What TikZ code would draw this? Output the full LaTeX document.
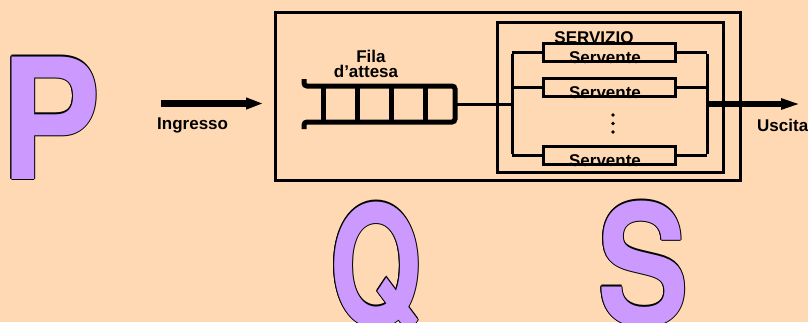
\documentclass[tikz,border=0pt]{standalone}
\usepackage{fontspec}
\setmainfont{Liberation Sans}
\newfontfamily\lettere{TeX Gyre Heros}
\usetikzlibrary{arrows.meta}
\usepackage{xcolor}

\definecolor{pesca}{HTML}{FFD9B3}
\definecolor{lilla}{HTML}{CC99FF}

\begin{document}
\begin{tikzpicture}[x=1pt,y=-1pt,
  testo/.style={font=\fontsize{17}{17}\selectfont\bfseries, inner sep=0pt},
  grande/.style={font=\lettere\fontsize{168}{168}\selectfont\bfseries, text=lilla, inner sep=0pt, anchor=base west, transform shape},
  serv/.style={draw, line width=3pt, minimum width=132pt, minimum height=18pt, inner sep=0pt},
  linea/.style={line width=3pt},
  freccia/.style={line width=7pt, -{Triangle[length=25pt,width=9pt]}}]

\fill[pesca] (0,0) rectangle (808,322);
\useasboundingbox (0,0) rectangle (808,322);

% P, Q, S: black copies around, lilla on top
\foreach \a [count=\i] in {0,45,...,315} {
  \node[grande, text=black, xscale=0.9] (Pc\i) at ([shift={(\a:1.1)}]0,179) {P};
  \node[grande, text=black, xscale=0.71] (Qc\i) at ([shift={(\a:1.1)}]329,326) {Q};
  \node[grande, text=black, xscale=0.82] (Sc\i) at ([shift={(\a:1.1)}]597,325) {S};
}
\node[grande, xscale=0.9] (P) at (0,179) {P};
\node[grande, xscale=0.71] (Q) at (329,326) {Q};
\node[grande, xscale=0.82] (S) at (597,325) {S};

% sistema e blocco di servizio
\draw[line width=3pt] (275,12) rectangle (740,180);
\draw[line width=3pt] (497,22) rectangle (723,172);

% ingresso
\coordinate (in0) at (161,103.5);
\coordinate (in1) at (271,103.5);
\draw[freccia] (in0) -- (in1);
\node[testo, anchor=base west] (ingresso) at (157,129) {Ingresso};

% fila d'attesa
\begin{scope}[line width=5pt]
\draw[rounded corners=3pt] (304,79) -- (304,86) -- (455,86) -- (455,122) -- (304,122) -- (304,129);
\foreach \x in {323,357,391,425}
  \draw (\x,86) -- (\x,122);
\end{scope}
\coordinate (coda) at (455,104);
\node[testo, align=center, anchor=south] (fila) at (366,78) {\hspace*{10pt}Fila\\[-2pt]d'attesa};

% serventi
\coordinate (busS) at (512,104);
\coordinate (busD) at (707,104);
\node[serv] (s1) at (609,52.5) {};
\node[serv] (s2) at (609,87) {};
\node[serv] (s3) at (609,155.5) {};
\foreach \n in {1,2,3} {
  \node[testo, anchor=base] (t\n) at ([xshift=-4pt,yshift=-0.5pt]s\n.south) {Servente};
  \draw[linea] (s\n.west) -- (s\n.west -| busS);
  \draw[linea] (s\n.east) -- (s\n.east -| busD);
}
\draw[linea] (coda) -- (busS);
\draw[linea] ([yshift=-1.5pt]s1.west -| busS) -- ([yshift=1.5pt]s3.west -| busS);
\draw[linea] ([yshift=-1.5pt]s1.east -| busD) -- ([yshift=1.5pt]s3.east -| busD);
\node[testo, anchor=base] (servizio) at (594,43) {SERVIZIO};

% puntini
\foreach \y in {115,123.5,132}
  \fill (613,\y) circle (1.8pt);

% uscita
\coordinate (out) at (806,104);
\draw[freccia, line width=6pt] (busD) -- (out);
\node[testo, anchor=base west] (uscita) at (757,131) {Uscita};

\end{tikzpicture}
\end{document}
